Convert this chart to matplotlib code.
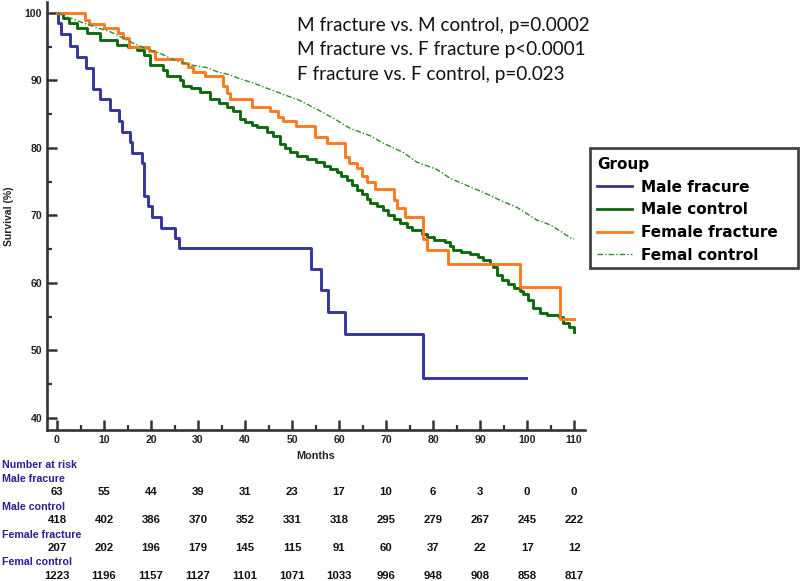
import matplotlib
matplotlib.use("Agg")
import matplotlib.pyplot as plt
from matplotlib.transforms import blended_transform_factory
from matplotlib.ticker import MultipleLocator
from matplotlib.patches import Rectangle

# ---------------- data ----------------
male_fx_t = [0, 0.3, 0.9, 2.8, 4.3, 6.1, 7.7, 9.1, 11.3, 13.2, 13.9, 15.5, 16.0, 18.1, 18.5,
             19.4, 20.1, 22.1, 25.0, 26.0, 54.0, 56.2, 57.7, 61.3, 77.8, 99.8]
male_fx_s = [100, 98.5, 96.8, 95.1, 93.5, 91.9, 88.7, 87.2, 85.6, 84.0, 82.4, 80.8, 79.3, 77.7, 72.9,
             71.4, 69.8, 68.2, 66.6, 65.1, 62.1, 58.9, 55.7, 52.4, 45.9, 45.9]

male_ct_t = [0, 1.3, 2.5, 4.2, 6.3, 9.1, 12.7, 15.0, 17.0, 18.4, 19.8, 22.6, 23.3, 26.2, 26.9, 28.5,
             30.4, 32.6, 34.5, 36.1, 37.5, 38.9, 40.0, 41.5, 42.5, 44.6, 46.0, 47.4, 48.5, 49.6,
             51.0, 53.1, 55.0, 56.7, 58.0, 59.5, 60.5, 61.6, 62.7, 63.8, 64.8, 65.9, 66.6, 68.0,
             69.4, 70.5, 71.6, 73.0, 74.4, 75.5, 77.6, 78.8, 80.1, 82.6, 83.5, 84.3, 86.0, 87.9,
             89.5, 90.7, 92.0, 92.8, 93.6, 94.6, 96.0, 97.1, 98.5, 99.2, 100.2, 101.3, 102.8,
             104.2, 106.7, 107.7, 108.8, 110.0]
male_ct_s = [100, 99.2, 98.5, 97.7, 97.0, 96.0, 95.3, 94.9, 94.5, 93.8, 92.3, 91.5, 90.6, 90.0, 89.1,
             88.8, 88.2, 87.2, 86.7, 86.0, 85.4, 84.3, 83.9, 83.4, 83.1, 82.4, 81.7, 80.6, 80.0,
             79.4, 78.8, 78.4, 77.9, 77.3, 76.9, 76.4, 75.9, 75.2, 74.5, 73.8, 73.2, 72.5, 71.9,
             71.4, 70.8, 70.1, 69.4, 68.8, 68.3, 67.8, 67.3, 66.8, 66.4, 66.1, 65.4, 64.9, 64.6,
             64.3, 63.8, 63.4, 62.8, 62.3, 61.2, 60.4, 59.8, 59.2, 58.8, 58.4, 57.4, 56.3, 55.6,
             55.2, 54.9, 54.0, 53.4, 52.8]

fem_fx_t = [0, 6.0, 6.7, 9.9, 13.0, 14.1, 15.4, 19.6, 20.8, 26.5, 27.8, 29.0, 31.5, 35.4, 36.1,
            36.8, 41.4, 45.3, 47.1, 48.0, 50.9, 54.9, 57.4, 61.3, 62.0, 63.8, 64.8, 65.9, 67.7,
            71.6, 72.4, 74.0, 77.8, 78.8, 83.1, 98.5, 107.0, 110.0]
fem_fx_s = [100, 98.9, 98.4, 97.7, 97.0, 96.2, 95.0, 94.4, 93.1, 92.5, 92.0, 91.3, 90.6, 89.1, 88.1,
            87.2, 86.1, 85.4, 84.5, 84.0, 83.2, 81.6, 80.7, 78.7, 77.8, 77.0, 75.8, 74.9, 73.9,
            72.3, 71.1, 69.8, 66.5, 64.9, 62.8, 59.4, 54.6, 54.6]

fem_ct_t = [0, 2.5, 5.6, 8.5, 11.3, 14.0, 16.2, 19.0, 21.9, 25.0, 27.6, 30.0, 31.8, 34.0, 36.8,
            39.0, 41.8, 44.0, 46.7, 48.2, 51.7, 55.3, 59.0, 62.3, 66.6, 69.4, 73.7, 76.5, 80.8,
            83.6, 87.9, 90.7, 95.0, 97.8, 102.1, 104.9, 107.0, 109.1, 110.0]
fem_ct_s = [100, 99.3, 98.5, 97.8, 97.2, 96.3, 95.5, 94.7, 94.0, 93.0, 92.4, 92.1, 91.9, 91.3, 90.8,
            90.2, 89.6, 89.0, 88.3, 87.9, 87.0, 85.7, 84.3, 82.9, 81.8, 80.7, 79.3, 77.9, 76.8,
            75.5, 74.2, 73.4, 72.0, 71.2, 69.3, 68.6, 67.7, 66.7, 66.5]

group_names = ["Male fracure", "Male control", "Female fracture", "Femal control"]
risk_times = [0, 10, 20, 30, 40, 50, 60, 70, 80, 90, 100, 110]
risk_male_fx = [63, 55, 44, 39, 31, 23, 17, 10, 6, 3, 0, 0]
risk_male_ct = [418, 402, 386, 370, 352, 331, 318, 295, 279, 267, 245, 222]
risk_fem_fx = [207, 202, 196, 179, 145, 115, 91, 60, 37, 22, 17, 12]
risk_fem_ct = [1223, 1196, 1157, 1127, 1101, 1071, 1033, 996, 948, 908, 858, 817]

pvalue_lines = ["M fracture vs. M control, p=0.0002",
                "M fracture vs. F fracture p<0.0001",
                "F fracture vs. F control, p=0.023"]

# ---------------- figure ----------------
W, H = 800, 581
fig = plt.figure(figsize=(W / 100, H / 100), dpi=100)
fig.patch.set_facecolor("white")


def fx(px):
    return px / W


def fy(py):
    return 1 - py / H


ax = fig.add_axes([fx(47), fy(430), fx(585) - fx(47), fy(2) - fy(430)])
ax.set_xlim(-2.13, 112.3)
ax.set_ylim(38.22, 101.6)

c_blue = "#35369c"
c_green = "#0d6b0d"
c_orange = "#ff7a1f"
c_fctrl = "#2e8b2e"

ax.plot(male_fx_t, male_fx_s, drawstyle="steps-post", color=c_blue, lw=2.1, label=group_names[0])
ax.plot(male_ct_t, male_ct_s, drawstyle="steps-post", color=c_green, lw=2.1, label=group_names[1])
ax.plot(fem_fx_t, fem_fx_s, drawstyle="steps-post", color=c_orange, lw=2.1, label=group_names[2])
ax.plot(fem_ct_t, fem_ct_s, color=c_fctrl, lw=1.0, dashes=(4, 1.5, 1, 1.5), label=group_names[3])

for s in ["top", "right"]:
    ax.spines[s].set_visible(False)
for s in ["left", "bottom"]:
    ax.spines[s].set_linewidth(1.9)
    ax.spines[s].set_color("#333333")

ax.xaxis.set_major_locator(MultipleLocator(10))
ax.xaxis.set_minor_locator(MultipleLocator(5))
ax.yaxis.set_major_locator(MultipleLocator(10))
ax.yaxis.set_minor_locator(MultipleLocator(5))
ax.set_xticks(risk_times)
ax.set_yticks([40, 50, 60, 70, 80, 90, 100])
ax.tick_params(which="major", direction="in", length=7.5, width=1.8, color="#333333",
               labelsize=7.6, pad=3.5)
ax.tick_params(which="minor", direction="in", length=3.8, width=1.6, color="#333333")
for lab in ax.get_xticklabels() + ax.get_yticklabels():
    lab.set_fontfamily("Liberation Sans")
    lab.set_fontweight("bold")
    lab.set_color("#222222")

fig.text(fx(9), fy(216), "Survival (%)", rotation=90, ha="center", va="center",
         fontsize=7.5, fontweight="bold", family="Liberation Sans", color="#222222")
fig.text(fx(316), fy(456), "Months", ha="center", va="center",
         fontsize=7.8, fontweight="bold", family="Liberation Sans", color="#222222")

# p-value annotation
for i, line in enumerate(pvalue_lines):
    fig.text(fx(297), fy(25 + 24.5 * i), line, ha="left", va="center",
             fontsize=13.6, family="Lato", color="#111111")

# legend (frame drawn separately to match the reference box)
leg = ax.legend(loc="upper left", bbox_to_anchor=(fx(590), fy(150)),
                bbox_transform=fig.transFigure, title="Group",
                prop={"family": "DejaVu Sans", "weight": "bold", "size": 11},
                title_fontproperties={"family": "DejaVu Sans", "weight": "bold", "size": 11},
                frameon=False, handlelength=2.3, handletextpad=0.59, labelspacing=0.5,
                borderpad=0.46, borderaxespad=0, alignment="left")
for h in leg.get_lines():
    h.set_linewidth(2.0)
leg.get_lines()[3].set_linewidth(1.0)
fig.add_artist(Rectangle((fx(590), fy(268)), fx(798) - fx(590), fy(148) - fy(268),
                         transform=fig.transFigure, fill=False, ec="#444444", lw=2.0))

# number at risk table
trans = blended_transform_factory(ax.transData, fig.transFigure)
label_color = "#2a1f95"
fig.text(fx(2), fy(465), "Number at risk", ha="left", va="center", fontsize=7.7,
         fontweight="bold", family="Liberation Sans", color=label_color)
rows = [risk_male_fx, risk_male_ct, risk_fem_fx, risk_fem_ct]
label_y = [479, 507, 535, 562]
num_y = [492, 520, 548, 576]
for name, row, ly, ny in zip(group_names, rows, label_y, num_y):
    fig.text(fx(2), fy(ly), name, ha="left", va="center", fontsize=7.7,
             fontweight="bold", family="Liberation Sans", color=label_color)
    for t, n in zip(risk_times, row):
        ax.text(t, fy(ny), str(n), transform=trans, ha="center", va="center",
                fontsize=8.2, fontweight="bold", family="Liberation Sans",
                color="#111111", clip_on=False)

fig.savefig("out.png", dpi=100, facecolor="white")
